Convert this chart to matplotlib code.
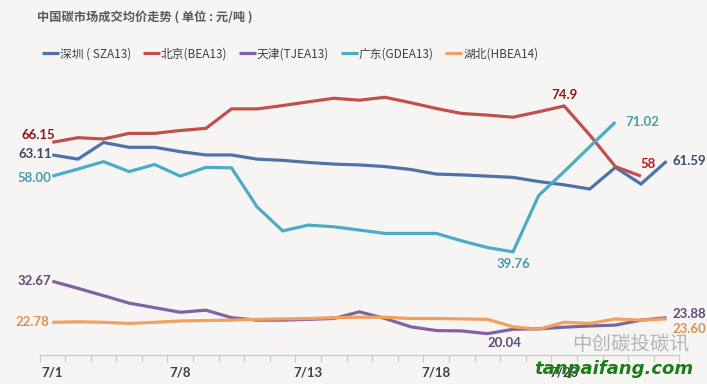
import numpy as np
import matplotlib
matplotlib.use('Agg')
import matplotlib.pyplot as plt

plt.rcParams['font.family'] = ['Noto Sans CJK SC', 'DejaVu Sans']

# trading days shown on the category axis (only every 5th is labelled)
dates = ['7/1', '7/2', '7/3', '7/4', '7/5', '7/8', '7/9', '7/10', '7/11', '7/12',
         '7/13', '7/14', '7/15', '7/16', '7/17', '7/18', '7/19', '7/20', '7/21', '7/22',
         '7/23', '7/24', '7/25', '7/26', '7/27']

shenzhen = [63.11, 62.1, 66.1, 64.95, 64.95, 63.9, 63.1, 63.1, 62.1, 61.8,
            61.3, 60.9, 60.7, 60.3, 59.6, 58.5, 58.3, 58.0, 57.7, 56.7,
            55.9, 54.9, 60.1, 56.1, 61.59]
beijing = [66.15, 67.26, 66.95, 68.3, 68.3, 69.0, 69.5, 74.2, 74.2, 75.0,
           75.9, 76.76, 76.3, 77.0, 75.7, 74.3, 73.1, 72.7, 72.2, 73.5,
           74.9, 67.9, 60.3, 58.0]
tianjin = [32.67, 30.97, 29.2, 27.4, 26.3, 25.2, 25.7, 23.9, 23.3, 23.3,
           23.5, 23.7, 25.3, 23.7, 21.7, 20.8, 20.7, 20.04, 21.1, 21.2,
           21.6, 21.9, 22.1, 23.3, 23.88]
guangdong = [58.00, 59.7, 61.5, 59.1, 60.8, 58.0, 60.1, 60.0, 50.6, 44.8,
             46.2, 45.8, 45.0, 44.2, 44.2, 44.2, 42.4, 40.8, 39.76, 53.3,
             59.1, 65.1, 71.02]
hubei = [22.78, 22.9, 22.78, 22.5, 22.78, 23.1, 23.2, 23.3, 23.5, 23.6,
         23.7, 23.9, 24.0, 24.0, 23.7, 23.7, 23.6, 23.5, 21.7, 21.1,
         22.8, 22.5, 23.6, 23.3, 23.60]

series = [
    ('深圳 ( SZA13)', shenzhen, '#4f72a8'),
    ('北京(BEA13)', beijing, '#c0504d'),
    ('天津(TJEA13)', tianjin, '#8064a2'),
    ('广东(GDEA13)', guangdong, '#4bacc6'),
    ('湖北(HBEA14)', hubei, '#f0a060'),
]

bg = '#f7f5f3'
fig = plt.figure(figsize=(7.07, 3.84), dpi=100, facecolor=bg)
ax = fig.add_axes([0.0559, 0.0755, 0.905, 0.7036])
ax.set_facecolor(bg)

for name, vals, col in series:
    ax.plot(range(len(vals)), vals, color=col, lw=2.3, label=name,
            solid_joinstyle='miter', solid_capstyle='butt')

ax.set_xlim(-0.5, len(dates) - 0.5)
ax.set_ylim(14.9, 80)

# category axis: boundary ticks, labels every 5th day
ax.set_xticks(np.arange(-0.5, len(dates), 1.0))
ax.set_xticklabels([])
ax.set_xticks(range(0, len(dates), 5), minor=True)
ax.set_xticklabels(dates[::5], minor=True, fontsize=9.5, fontweight='bold',
                   color='#404040', family=['Lato', 'DejaVu Sans'])
ax.tick_params(axis='x', which='major', length=5, color='#c8c8c8', width=0.8)
ax.tick_params(axis='x', which='minor', length=0, pad=8)
ax.set_yticks([])
for s in ['top', 'right', 'left']:
    ax.spines[s].set_visible(False)
ax.spines['bottom'].set_color('#c8c8c8')
ax.spines['bottom'].set_linewidth(0.9)

lab = dict(fontsize=9.5, fontweight='bold', textcoords='offset points',
           family=['Lato', 'DejaVu Sans'])
# start values
ax.annotate(f'{beijing[0]:.2f}', (0, beijing[0]), xytext=(2, 5), ha='right', va='center', color='#8b1a1a', **lab)
ax.annotate(f'{shenzhen[0]:.2f}', (0, shenzhen[0]), xytext=(0, 1), ha='right', va='center', color='#3b4d66', **lab)
ax.annotate(f'{guangdong[0]:.2f}', (0, guangdong[0]), xytext=(-1, -1), ha='right', va='center', color='#4a9ab0', **lab)
ax.annotate(f'{tianjin[0]:.2f}', (0, tianjin[0]), xytext=(-1, 0), ha='right', va='center', color='#5f4b7a', **lab)
ax.annotate(f'{hubei[0]:.2f}', (0, hubei[0]), xytext=(-2, 0), ha='right', va='center', color='#e0904f', **lab)
# notable points
ax.annotate('74.9', (20, beijing[20]), xytext=(0, 8), ha='center', va='center', color='#8b1a1a', **lab)
ax.annotate('58', (23, beijing[23]), xytext=(5, 9), ha='center', va='center', color='#c0171a', **lab)
ax.annotate('71.02', (22, guangdong[22]), xytext=(7, 0), ha='left', va='center', color='#4a9ab0', **lab)
ax.annotate('39.76', (18, guangdong[18]), xytext=(0, -9), ha='center', va='center', color='#4a9ab0', **lab)
ax.annotate('61.59', (24, shenzhen[24]), xytext=(4, 0), ha='left', va='center', color='#3b4d66', **lab)
ax.annotate('20.04', (17, tianjin[17]), xytext=(0, -7), ha='left', va='center', color='#5f4b7a', **lab)
ax.annotate('23.88', (24, tianjin[24]), xytext=(4, 3), ha='left', va='center', color='#5f4b7a', **lab)
ax.annotate('23.60', (24, hubei[24]), xytext=(4, -7), ha='left', va='center', color='#e0904f', **lab)

fig.text(0.052, 0.953, '中国碳市场成交均价走势 ( 单位 : 元/吨 )', fontsize=8.8,
         fontweight='bold', color='#595959', va='center')
fig.legend(loc='center left', bbox_to_anchor=(0.045, 0.86), ncol=5, frameon=False,
           fontsize=8.5, handlelength=1.4, handletextpad=0.1, columnspacing=1.0,
           labelcolor='#404040')

fig.text(0.975, 0.103, '中创碳投碳讯', fontsize=14, color='#b5b5b5', ha='right', va='center')
fig.text(0.98, 0.04, 'tanpaifang.com', fontsize=13, fontweight='bold', style='italic',
         color='#1a7d1a', ha='right', va='center', family='DejaVu Sans')

fig.savefig('out.png', dpi=100, facecolor=bg)
